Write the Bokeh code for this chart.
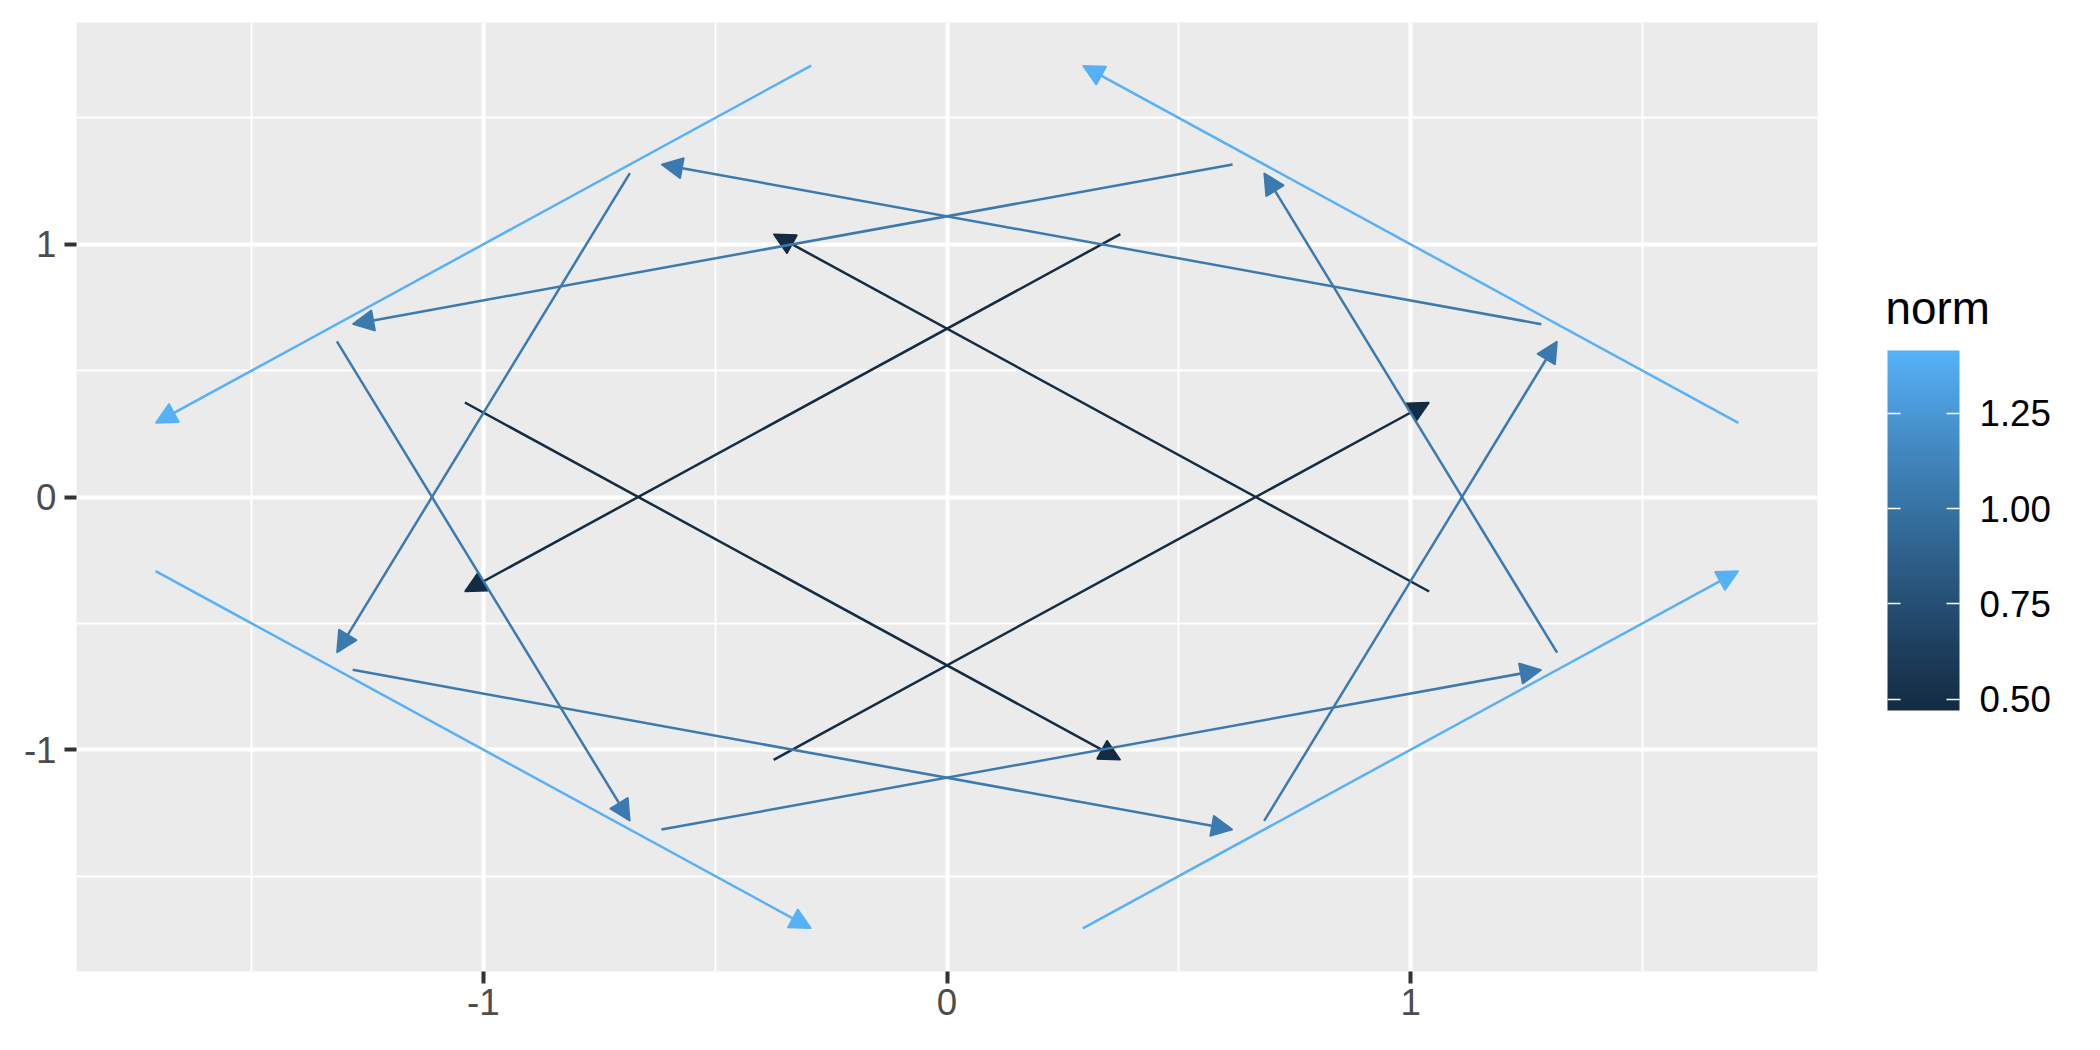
import numpy as np
from bokeh.plotting import figure
from bokeh.models import (ColumnDataSource, Arrow, NormalHead, Range1d, FixedTicker,
                          ColorBar, LinearColorMapper, PrintfTickFormatter)
from bokeh.transform import linear_cmap
from bokeh.embed import file_html
from bokeh.resources import INLINE

# ---- data ----
x_start = [-0.293, 1.707, -1.707, 0.293,
           0.616, 1.316, -0.616, -1.316, 1.282, -0.684, -1.282, 0.684,
           0.374, 1.040, -1.040, -0.374]
y_start = [1.707, 0.293, -0.293, -1.707,
           1.316, -0.616, -1.316, 0.616, 0.684, 1.282, -0.684, -1.282,
           1.040, -0.374, 0.374, -1.040]
x_end = [-1.707, 0.293, -0.293, 1.707,
         -1.282, 0.684, 1.282, -0.684, -0.616, -1.316, 0.616, 1.316,
         -1.040, -0.374, 0.374, 1.040]
y_end = [0.293, 1.707, -1.707, -0.293,
         0.684, 1.282, -0.684, -1.282, 1.316, -0.616, -1.316, 0.616,
         -0.374, 1.040, -1.040, 0.374]
norm = [1.414, 1.414, 1.414, 1.414,
        1.054, 1.054, 1.054, 1.054, 1.054, 1.054, 1.054, 1.054,
        0.471, 0.471, 0.471, 0.471]
axis_ticks = [-1, 0, 1]
axis_minor = [-1.5, -0.5, 0.5, 1.5]
legend_ticks = [0.5, 0.75, 1.0, 1.25]
legend_title = "norm"

# ---- ggplot-like Lab gradient ----
LOW, HIGH = "#132B43", "#56B1F7"
WHITE = np.array([0.95047, 1.0, 1.08883])
M = np.array([[0.4124564, 0.3575761, 0.1804375],
              [0.2126729, 0.7151522, 0.0721750],
              [0.0193339, 0.1191920, 0.9503041]])
Minv = np.linalg.inv(M)

def hex_to_lab(h):
    c = np.array([int(h[i:i + 2], 16) for i in (1, 3, 5)]) / 255.0
    lin = np.where(c <= 0.04045, c / 12.92, ((c + 0.055) / 1.055) ** 2.4)
    xyz = M @ lin / WHITE
    d = 6 / 29
    f = np.where(xyz > d ** 3, np.cbrt(xyz), xyz / (3 * d * d) + 4 / 29)
    return np.array([116 * f[1] - 16, 500 * (f[0] - f[1]), 200 * (f[1] - f[2])])

def lab_to_hex(lab):
    L, a, b = lab
    fy = (L + 16) / 116
    fx = fy + a / 500
    fz = fy - b / 200
    d = 6 / 29
    f = np.array([fx, fy, fz])
    xyz = np.where(f > d, f ** 3, 3 * d * d * (f - 4 / 29)) * WHITE
    lin = Minv @ xyz
    lin = np.clip(lin, 0, 1)
    c = np.where(lin <= 0.0031308, 12.92 * lin, 1.055 * lin ** (1 / 2.4) - 0.055)
    c = np.clip(np.round(c * 255), 0, 255).astype(int)
    return "#%02x%02x%02x" % tuple(c)

l0, l1 = hex_to_lab(LOW), hex_to_lab(HIGH)
palette = [lab_to_hex(l0 + (l1 - l0) * t) for t in np.linspace(0, 1, 256)]

nmin, nmax = min(norm), max(norm)

# ---- ranges with ggplot 5% expansion ----
allx = x_start + x_end
ally = y_start + y_end
ex = 0.05 * (max(allx) - min(allx))
ey = 0.05 * (max(ally) - min(ally))

W, H = 2100, 1050
p = figure(width=W, height=H, output_backend="svg", toolbar_location=None,
           x_range=Range1d(min(allx) - ex, max(allx) + ex),
           y_range=Range1d(min(ally) - ey, max(ally) + ey),
           min_border_left=76, min_border_right=283, min_border_top=22, min_border_bottom=79)
p.background_fill_color = "#EBEBEB"
p.border_fill_color = "white"
p.outline_line_color = None

for ax in (p.xaxis[0], p.yaxis[0]):
    ax.ticker = FixedTicker(ticks=axis_ticks, minor_ticks=axis_minor)
    ax.major_label_overrides = {t: str(t) for t in axis_ticks}
    ax.axis_line_color = None
    ax.major_tick_line_color = "#333333"
    ax.major_tick_line_width = 4
    ax.major_tick_out = 12
    ax.major_tick_in = 0
    ax.minor_tick_line_color = None
    ax.major_label_text_font = "Liberation Sans"
    ax.major_label_text_font_size = "36.7px"
    ax.major_label_text_color = "#4D4D4D"
p.xaxis.major_label_standoff = 5
p.yaxis.major_label_standoff = 8

for g in (p.xgrid[0], p.ygrid[0]):
    g.grid_line_color = "white"
    g.grid_line_width = 4
    g.minor_grid_line_color = "white"
    g.minor_grid_line_width = 2

# arrows, drawn by group (dark first, light last)
for lvl in sorted(set(norm)):
    idx = [i for i, n in enumerate(norm) if n == lvl]
    src = ColumnDataSource(dict(
        x0=[x_start[i] for i in idx], y0=[y_start[i] for i in idx],
        x1=[x_end[i] for i in idx], y1=[y_end[i] for i in idx],
        norm=[norm[i] for i in idx]))
    cm = linear_cmap("norm", palette, nmin, nmax)
    head = NormalHead(size=21, fill_color=cm, line_color=cm, line_width=1.5)
    p.add_layout(Arrow(end=head, x_start="x0", y_start="y0", x_end="x1", y_end="y1",
                       line_color=cm, line_width=2.5, source=src))

mapper = LinearColorMapper(palette=palette, low=nmin, high=nmax)
cb = ColorBar(color_mapper=mapper, width=72, height=360, padding=0,
              location=(1811, 261),
              ticker=FixedTicker(ticks=legend_ticks),
              formatter=PrintfTickFormatter(format="%.2f"),
              major_tick_in=13, major_tick_out=0,
              major_tick_line_color="white", major_tick_line_width=1.5,
              minor_tick_line_color=None, bar_line_color=None,
              major_label_text_font="Liberation Sans",
              major_label_text_font_size="36.7px",
              major_label_text_color="black",
              label_standoff=20,
              background_fill_alpha=0, border_line_color=None)
p.add_layout(cb)

# left-edge ticks of the colour bar (ggplot draws them on both sides)
cb_left = ColorBar(color_mapper=mapper, width=13, height=360, padding=0,
                   location=(1811, 261), scale_alpha=0,
                   ticker=FixedTicker(ticks=legend_ticks),
                   formatter=PrintfTickFormatter(format="%.2f"),
                   major_tick_in=13, major_tick_out=0,
                   major_tick_line_color="white", major_tick_line_width=1.5,
                   minor_tick_line_color=None, bar_line_color=None,
                   major_label_text_color=None, major_label_text_font_size="36.7px",
                   background_fill_alpha=0, border_line_color=None)
p.add_layout(cb_left)

# legend title, horizontal, above the bar
cb_title = ColorBar(color_mapper=mapper, orientation="horizontal", width=120, height=1,
                    padding=0, location=(1809, 637), scale_alpha=0,
                    ticker=FixedTicker(ticks=[]),
                    major_tick_line_color=None, minor_tick_line_color=None,
                    major_label_text_color=None, major_label_text_font_size="1px",
                    bar_line_color=None, label_standoff=0,
                    title=legend_title, title_text_font="Liberation Sans",
                    title_text_font_size="45.8px", title_text_font_style="normal",
                    title_text_color="black", title_standoff=0,
                    background_fill_alpha=0, border_line_color=None)
p.add_layout(cb_title)

open("out.html", "w").write(file_html(p, INLINE))
